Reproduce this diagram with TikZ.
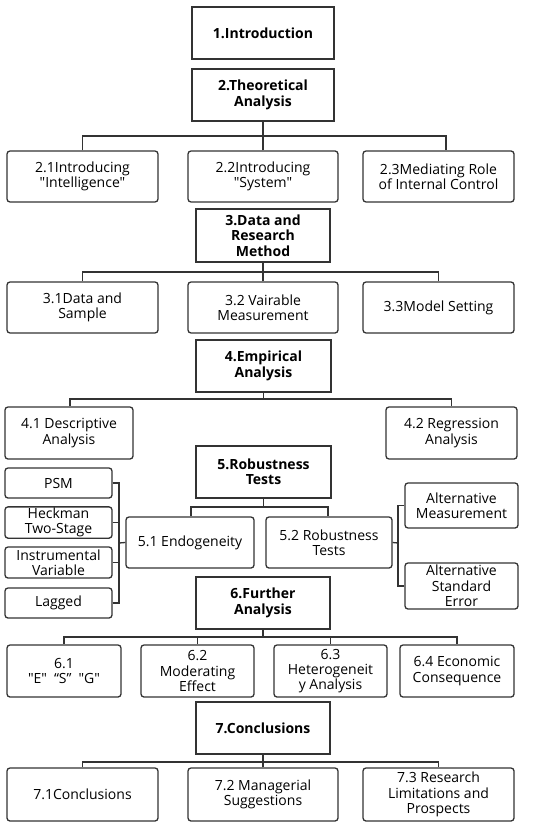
\documentclass[tikz,border=0pt]{standalone}
\usepackage{fontspec}
\setmainfont{Open Sans}[Ligatures=TeXOff]
\definecolor{ln}{HTML}{333333}
\begin{document}
\begin{tikzpicture}[x=1pt,y=-1pt,
  main/.style={draw=ln,line width=1.6pt,align=center,inner sep=1pt,
    font=\fontsize{14}{15.3}\selectfont\bfseries,text=black},
  sub/.style={draw=ln,line width=1.3pt,rounded corners=3pt,align=center,inner sep=1pt,
    font=\fontsize{14}{15.3}\selectfont,text=black},
  conn/.style={draw=ln,line width=1.3pt}]
\useasboundingbox (0,0) rectangle (550,826);
\fill[white] (0,0) rectangle (550,826);
% main boxes
\node[main,minimum width=142pt,minimum height=52pt] (b1) at (263,33) {1.Introduction};
\node[main,minimum width=142pt,minimum height=52pt] (b2) at (263,95) {2.Theoretical\\Analysis};
\node[main,minimum width=134pt,minimum height=53pt] (b3) at (263,235.5) {3.Data and\\Research\\Method};
\node[main,minimum width=135pt,minimum height=52pt] (b4) at (263.5,366) {4.Empirical\\Analysis};
\node[main,minimum width=135pt,minimum height=52pt] (b5) at (263.5,472) {5.Robustness\\Tests};
\node[main,minimum width=134pt,minimum height=52pt] (b6) at (263,603) {6.Further\\Analysis};
\node[main,minimum width=134pt,minimum height=52pt] (b7) at (263,728) {7.Conclusions};
% row 2
\node[sub,minimum width=151pt,minimum height=51pt] (c21) at (82.5,176.5) {2.1Introducing\\"Intelligence"};
\node[sub,minimum width=150pt,minimum height=51pt] (c22) at (263,176.5) {2.2Introducing\\"System"};
\node[sub,minimum width=151pt,minimum height=51pt] (c23) at (438.5,176.5) {2.3Mediating Role\\of Internal Control};
% row 3
\node[sub,minimum width=151pt,minimum height=51pt] (c31) at (82.5,307.5) {3.1Data and\\Sample};
\node[sub,minimum width=150pt,minimum height=51pt] (c32) at (263,307.5) {3.2 Vairable\\Measurement};
\node[sub,minimum width=151pt,minimum height=51pt] (c33) at (438.5,307.5) {3.3Model Setting};
% row 4
\node[sub,minimum width=128pt,minimum height=52pt] (c41) at (69,433) {4.1 Descriptive\\Analysis};
\node[sub,minimum width=131pt,minimum height=52pt] (c42) at (451.5,433) {4.2 Regression\\Analysis};
% row 5
\node[sub,minimum width=128pt,minimum height=51pt] (c51) at (190,542.5) {5.1 Endogeneity};
\node[sub,minimum width=126pt,minimum height=51pt] (c52) at (329,542.5) {5.2 Robustness\\Tests};
\node[sub,minimum width=107pt,minimum height=30pt] (l1) at (58.5,483) {PSM};
\node[sub,minimum width=107pt,minimum height=31pt] (l2) at (58.5,522.5) {Heckman\\Two-Stage};
\node[sub,minimum width=107pt,minimum height=31pt] (l3) at (58.5,562.5) {Instrumental\\Variable};
\node[sub,minimum width=107pt,minimum height=30pt] (l4) at (58.5,603) {Lagged};
\node[sub,minimum width=113pt,minimum height=45pt] (r1) at (461.5,505.5) {Alternative\\Measurement};
\node[sub,minimum width=113pt,minimum height=46pt] (r2) at (461.5,586) {Alternative\\Standard\\Error};
% row 6
\node[sub,minimum width=114pt,minimum height=52pt] (c61) at (64,671) {6.1\\"E"\enspace“S”\enspace"G"};
\node[sub,minimum width=113pt,minimum height=52pt] (c62) at (197.5,671) {6.2\\Moderating\\Effect};
\node[sub,minimum width=113pt,minimum height=52pt] (c63) at (330.5,671) {6.3\\Heterogeneit\\y Analysis};
\node[sub,minimum width=114pt,minimum height=52pt] (c64) at (457,671) {6.4 Economic\\Consequence};
% row 7
\node[sub,minimum width=151pt,minimum height=53pt] (c71) at (82.5,794.5) {7.1Conclusions};
\node[sub,minimum width=150pt,minimum height=53pt] (c72) at (263,794.5) {7.2 Managerial\\Suggestions};
\node[sub,minimum width=151pt,minimum height=53pt] (c73) at (438.5,794.5) {7.3 Research\\Limitations and\\Prospects};
% coordinates
\coordinate (j2) at (263,136);
\coordinate (j3) at (263,272);
\coordinate (j4) at (263.5,399);
\coordinate (j5) at (263.5,507);
\coordinate (j6) at (263,637);
\coordinate (j7) at (263,762);
\coordinate (lb) at (119,543);
\coordinate (rb) at (398,543);
% connectors
\draw[conn] (b2.south) -- (j2);
\draw[conn] (c21.north) |- (j2) -| ([xshift=7.5pt]c23.north);
\draw[conn] (c22.north) -- (j2);
\draw[conn] (b3.south) -- (j3);
\draw[conn] (c31.north) |- (j3) -| (c33.north);
\draw[conn] (c32.north) -- (j3);
\draw[conn] (b4.south) -- (j4);
\draw[conn] ([xshift=1pt]c41.north) |- (j4) -| (c42.north);
\draw[conn] (b5.south) -- (j5);
\draw[conn] ([xshift=1pt]c51.north) |- (j5) -| ([xshift=-1pt]c52.north);
\draw[conn] (l1.east) -| (lb);
\draw[conn] (l4.east) -| (lb);
\draw[conn] (l2.east) -- (l2.east -| lb);
\draw[conn] (l3.east) -- (l3.east -| lb);
\draw[conn] (lb) -- (c51.west);
\draw[conn] (c52.east) -- (rb);
\draw[conn] (r1.west) -| (rb);
\draw[conn] (r2.west) -| (rb);
\draw[conn] (b6.south) -- (j6);
\draw[conn] (c61.north) |- (j6) -| (c64.north);
\draw[conn] (c62.north) |- (j6);
\draw[conn] (c63.north) |- (j6);
\draw[conn] (b7.south) -- (j7);
\draw[conn] (c71.north) |- (j7) -| (c73.north);
\draw[conn] (c72.north) -- (j7);
\end{tikzpicture}
\end{document}
